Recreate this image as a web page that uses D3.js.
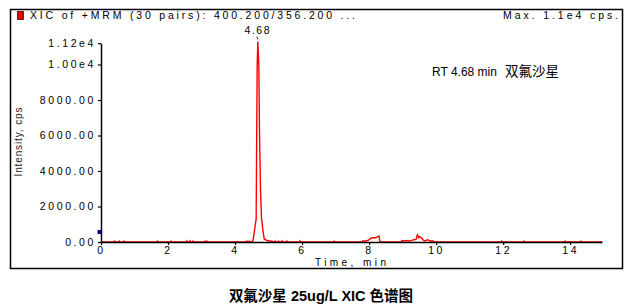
<!DOCTYPE html>
<html>
<head>
<meta charset="utf-8">
<script src="https://cdn.jsdelivr.net/npm/d3@7"></script>
<style>
body { margin: 0; background: #fff; }
svg text { font-family: "Liberation Sans", Arial, "Noto Sans CJK SC", sans-serif; }
</style>
</head>
<body>
<script>
// retention time (min) and intensity (cps)
const rt = [0.00,
    0.38, 0.40, 0.42, 0.53, 0.55, 0.57, 0.67, 0.69, 0.71,
    1.67, 1.69, 1.71, 2.07, 2.09, 2.11,
    2.54, 2.56, 2.58, 2.62, 2.64, 2.66, 2.68, 2.72, 2.74, 2.76,
    3.08, 3.10, 3.12, 3.14, 3.16, 3.18,
    4.33, 4.35, 4.37, 4.40, 4.42, 4.44,
    4.50, 4.54, 4.59, 4.63, 4.66, 4.68, 4.71, 4.73, 4.76, 4.79, 4.83, 4.87, 4.93,
    4.98, 5.00, 5.04, 5.08, 5.10, 5.14, 5.18, 5.20, 5.22, 5.28, 5.30, 5.32, 5.38, 5.40, 5.42, 5.53, 5.55, 5.57,
    5.92, 5.94, 5.96, 6.94, 6.96, 6.98,
    7.79, 7.81, 7.90, 7.98, 8.05, 8.08, 8.20, 8.25, 8.30, 8.32,
    8.96, 8.98, 9.05, 9.13, 9.20, 9.27, 9.33, 9.40, 9.44, 9.48, 9.50, 9.57, 9.62, 9.68, 9.74, 9.82, 9.92, 9.94,
    11.94, 11.96, 11.98, 12.61, 12.63, 12.65, 13.83, 13.85, 13.87, 14.30, 14.32, 14.34,
    14.95];
const cps = [0,
    0, 50, 0, 0, 50, 0, 0, 50, 0,
    0, 50, 0, 0, 50, 0,
    0, 60, 0, 0, 50, 60, 0, 0, 50, 0,
    0, 50, 0, 0, 50, 0,
    0, 50, 0, 0, 50, 0,
    0, 100, 780, 1300, 9900, 11300, 9900, 6200, 2900, 1350, 680, 170, 110,
    60, 80, 60, 0, 60, 0, 0, 60, 0, 0, 50, 0, 0, 60, 0, 0, 50, 0,
    0, 60, 0, 0, 50, 0,
    0, 60, 60, 110, 200, 240, 240, 300, 330, 0,
    0, 80, 60, 80, 60, 80, 130, 150, 400, 250, 300, 220, 100, 60, 130, 60, 60, 0,
    0, 50, 0, 0, 50, 0, 0, 50, 0, 0, 50, 0,
    0];

const xTicks = [0, 2, 4, 6, 8, 10, 12, 14];
const yTicks = [0, 2000, 4000, 6000, 8000, 10000, 11200];
const yTickLabels = ["0.00", "2000.00", "4000.00", "6000.00", "8000.00", "1.00e4", "1.12e4"];
const peakRT = 4.68;

const width = 640, height = 306;

let svg = d3.select("body").append("svg")
    .attr("width", width)
    .attr("height", height);

svg.append("rect").attr("width", width).attr("height", height).attr("fill", "#fff");

// outer frame
svg.append("rect")
    .attr("x", 10.5).attr("y", 9.5)
    .attr("width", 612).attr("height", 259)
    .attr("fill", "none").attr("stroke", "#000").attr("stroke-width", 1.5);

// header line
svg.append("rect")
    .attr("x", 17.5).attr("y", 11.5).attr("width", 6).attr("height", 8)
    .attr("fill", "#e80000").attr("stroke", "#600").attr("stroke-width", 0.8);
svg.append("text")
    .attr("x", 30).attr("y", 19)
    .attr("font-size", 10.5)
    .attr("textLength", 325).attr("lengthAdjust", "spacing")
    .text("XIC of +MRM (30 pairs): 400.200/356.200 ...");
svg.append("text")
    .attr("x", 503).attr("y", 19)
    .attr("font-size", 10.5)
    .attr("textLength", 115).attr("lengthAdjust", "spacing")
    .text("Max. 1.1e4 cps.");

let x = d3.scaleLinear().domain([0, 14.95]).range([101, 602]);
let y = d3.scaleLinear().domain([0, 11200]).range([242, 43.2]);

// trace
let line = d3.line()
    .x((d, i) => x(rt[i]))
    .y((d, i) => y(cps[i]));

svg.append("path")
    .datum(cps)
    .attr("d", line)
    .attr("fill", "none")
    .attr("stroke", "#ff0000")
    .attr("stroke-width", 1.4);

// axes
let yAxis = svg.append("g")
    .attr("transform", "translate(101,0)")
    .call(d3.axisLeft(y)
        .tickValues(yTicks)
        .tickFormat((d, i) => yTickLabels[i])
        .tickSize(3).tickSizeOuter(0).tickPadding(2));

let xAxis = svg.append("g")
    .attr("transform", "translate(0,242)")
    .call(d3.axisBottom(x)
        .tickValues(xTicks)
        .tickFormat(d3.format("d"))
        .tickSize(3).tickSizeOuter(0).tickPadding(2));

[yAxis, xAxis].forEach(g => {
    g.select(".domain").attr("stroke-width", 1.5);
    g.selectAll(".tick line").attr("stroke-width", 1.2);
    g.selectAll("text")
        .attr("font-family", "Liberation Sans, Arial, sans-serif")
        .attr("font-size", 10.5)
        .style("letter-spacing", "2.6px")
        .attr("fill", "#000");
});

// blue threshold marker on the y axis
svg.append("rect")
    .attr("x", 97.5).attr("y", 230).attr("width", 3.5).attr("height", 4)
    .attr("fill", "#0000a0");

// axis titles
svg.append("text")
    .attr("transform", "translate(21.5,142) rotate(-90)")
    .attr("text-anchor", "middle")
    .attr("font-size", 10)
    .attr("fill", "#222")
    .attr("textLength", 69).attr("lengthAdjust", "spacing")
    .text("Intensity, cps");

svg.append("text")
    .attr("x", 350.5).attr("y", 266)
    .attr("text-anchor", "middle")
    .attr("font-size", 10)
    .attr("textLength", 71).attr("lengthAdjust", "spacing")
    .text("Time, min");

// peak label
svg.append("text")
    .attr("x", x(peakRT)).attr("y", 34)
    .attr("text-anchor", "middle")
    .attr("font-size", 10.5)
    .style("letter-spacing", "1.5px")
    .text(peakRT.toFixed(2));
svg.append("line")
    .attr("x1", x(peakRT) - 1).attr("y1", 36.5)
    .attr("x2", x(peakRT)).attr("y2", 39.5)
    .attr("stroke", "#000").attr("stroke-width", 0.8);

// annotation
let note = svg.append("text")
    .attr("x", 432).attr("y", 76)
    .attr("font-size", 12);
note.append("tspan").text("RT " + peakRT.toFixed(2) + " min");
note.append("tspan")
    .attr("dx", 8)
    .attr("font-family", "Noto Sans CJK SC")
    .attr("font-size", 13.5)
    .text("双氟沙星");

// caption
svg.append("text")
    .attr("x", 321).attr("y", 301)
    .attr("text-anchor", "middle")
    .attr("font-size", 14.5)
    .attr("font-weight", "bold")
    .text("双氟沙星 25ug/L XIC 色谱图");
</script>
</body>
</html>
